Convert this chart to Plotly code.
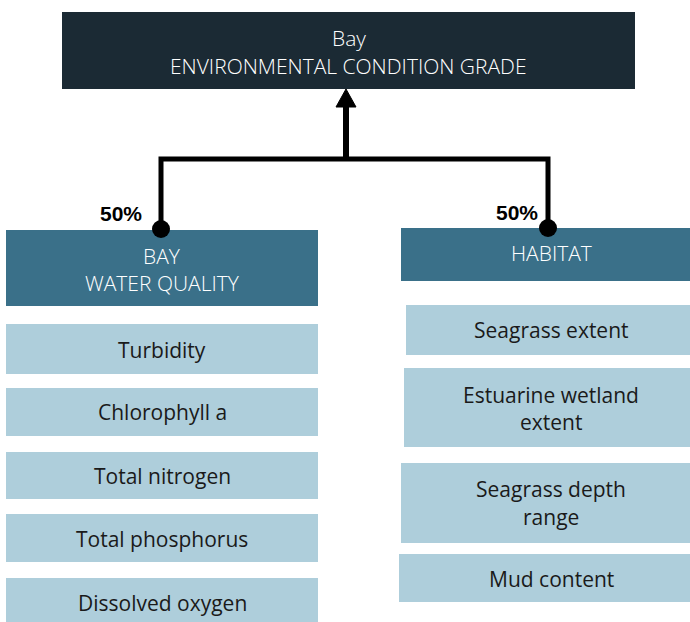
import plotly.graph_objects as go

# ---- data ----
top_lines = ["Bay", "ENVIRONMENTAL CONDITION GRADE"]
group_titles = [["BAY", "WATER QUALITY"], ["HABITAT"]]
group_weights = ["50%", "50%"]
water_quality_items = [["Turbidity"], ["Chlorophyll a"], ["Total nitrogen"],
                       ["Total phosphorus"], ["Dissolved oxygen"]]
habitat_items = [["Seagrass extent"], ["Estuarine wetland", "extent"],
                 ["Seagrass depth", "range"], ["Mud content"]]

# ---- layout (pixel geometry of the diagram) ----
W, H = 690, 622
DARK = "#1b2a34"
MID = "#3a7089"
LIGHT = "#aecedb"
FONT = "Open Sans"

top_box = dict(x0=62, x1=635, y0=12, y1=89, line_y=[38, 66])
group_boxes = [
    dict(x0=6, x1=318, y0=230, y1=306, line_y=[256, 283], tx=162),
    dict(x0=401, x1=700, y0=228, y1=281, line_y=[253], tx=551),
]
wq_boxes = [
    dict(x0=6, x1=318, y0=324, y1=374, line_y=[350], tx=162),
    dict(x0=6, x1=318, y0=388, y1=436, line_y=[412], tx=162),
    dict(x0=6, x1=318, y0=452, y1=499, line_y=[476], tx=162),
    dict(x0=6, x1=318, y0=514, y1=562, line_y=[539], tx=162),
    dict(x0=6, x1=318, y0=578, y1=640, line_y=[603], tx=162),
]
hab_boxes = [
    dict(x0=406, x1=700, y0=305, y1=355, line_y=[330], tx=551),
    dict(x0=404, x1=700, y0=368, y1=447, line_y=[395, 422], tx=551),
    dict(x0=401, x1=700, y0=463, y1=543, line_y=[489, 517], tx=551),
    dict(x0=399, x1=700, y0=554, y1=602, line_y=[579], tx=551),
]
connector_x = [161, 548]
bar_y = 159
dot_y = [229, 228]
stem_x = 346
weight_pos = [(121, 213), (517, 212)]

shapes = []
annotations = []


def add_box(b, fill, lines, color, size, weight):
    shapes.append(dict(type="rect", xref="x", yref="y", x0=b["x0"], x1=b["x1"],
                       y0=b["y0"], y1=b["y1"], fillcolor=fill, line=dict(width=0),
                       layer="below"))
    tx = b.get("tx", (b["x0"] + b["x1"]) / 2)
    for txt, ly in zip(lines, b["line_y"]):
        annotations.append(dict(x=tx, y=ly, xref="x", yref="y", text=txt,
                                showarrow=False, xanchor="center", yanchor="middle",
                                font=dict(family=FONT, size=size, color=color,
                                          weight=weight)))


add_box(top_box, DARK, top_lines, "white", 21, 300)
for b, t in zip(group_boxes, group_titles):
    add_box(b, MID, t, "white", 21, 300)
for b, t in zip(wq_boxes, water_quality_items):
    add_box(b, LIGHT, t, "#1a1a1a", 21, 400)
for b, t in zip(hab_boxes, habitat_items):
    add_box(b, LIGHT, t, "#1a1a1a", 21, 400)

# connectors
lx, rx = connector_x
shapes.append(dict(type="path", xref="x", yref="y",
                   path=f"M {lx},{dot_y[0]} L {lx},{bar_y} L {rx},{bar_y} L {rx},{dot_y[1]}",
                   line=dict(color="black", width=5)))
shapes.append(dict(type="line", xref="x", yref="y", x0=stem_x, x1=stem_x,
                   y0=bar_y, y1=104, line=dict(color="black", width=6)))
shapes.append(dict(type="path", xref="x", yref="y",
                   path=f"M {stem_x-10},107 L {stem_x},89 L {stem_x+10},107 Z",
                   fillcolor="black", line=dict(color="black", width=1)))
for cx, cy in zip(connector_x, dot_y):
    shapes.append(dict(type="circle", xref="x", yref="y", x0=cx - 9, x1=cx + 9,
                       y0=cy - 9, y1=cy + 9, fillcolor="black",
                       line=dict(color="black", width=0)))

for txt, (px, py) in zip(group_weights, weight_pos):
    annotations.append(dict(x=px, y=py, xref="x", yref="y", text=f"<b>{txt}</b>",
                            showarrow=False, xanchor="center", yanchor="middle",
                            font=dict(family="Liberation Sans", size=21, color="black")))

fig = go.Figure()
fig.update_layout(
    width=W, height=H, margin=dict(l=0, r=0, t=0, b=0),
    paper_bgcolor="white", plot_bgcolor="white",
    xaxis=dict(range=[0, W], visible=False, fixedrange=True),
    yaxis=dict(range=[H, 0], visible=False, fixedrange=True),
    shapes=shapes, annotations=annotations, showlegend=False,
)
fig.write_html(
    "out.html",
    config={"displayModeBar": False},
    post_script="document.body.style.margin='0';document.body.style.overflow='hidden';",
)
